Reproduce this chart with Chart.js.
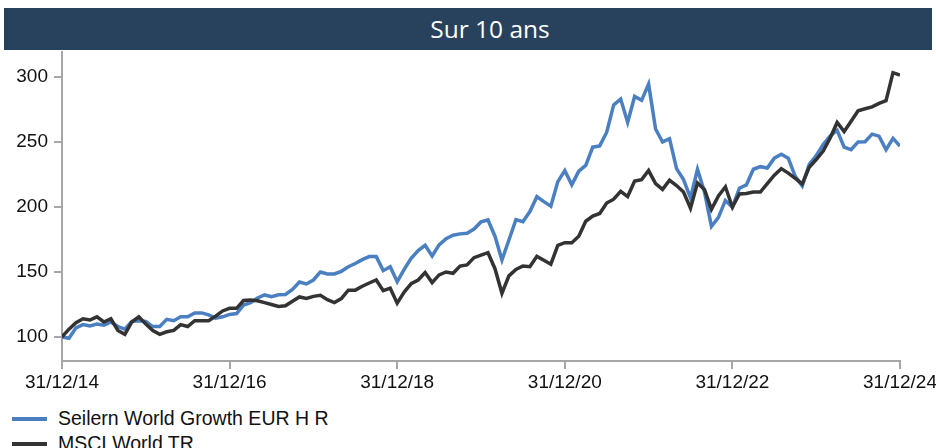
<!DOCTYPE html>
<html lang="fr">
<head>
  <meta charset="UTF-8" />
  <title>Sur 10 ans</title>
  <script src="https://cdn.jsdelivr.net/npm/chart.js"></script>
  <style>
    body {
      margin: 0;
      width: 936px;
      height: 448px;
      overflow: hidden;
      background: #fff;
      font-family: 'Liberation Sans', Arial, sans-serif;
      position: relative;
    }
    .title-bar {
      position: absolute;
      left: 4px;
      top: 8px;
      width: 928px;
      height: 42px;
      background: #28425d;
      color: #fff;
      font-family: 'Open Sans', sans-serif;
      font-size: 24.5px;
      line-height: 42px;
      text-align: center;
      padding-left: 44px;
      box-sizing: border-box;
    }
    #chartWrap {
      position: absolute;
      left: 0;
      top: 0;
    }
    .legend {
      position: absolute;
      left: 12px;
      top: 406px;
      font-size: 19.5px;
      color: #111;
    }
    .legend div {
      display: flex;
      align-items: center;
      height: 25px;
    }
    .legend span.swatch {
      display: inline-block;
      width: 35px;
      height: 4px;
      margin-right: 11px;
    }
  </style>
</head>
<body>
<div id="chartWrap"><canvas id="perfChart" width="940" height="400"></canvas></div>
<div class="title-bar">Sur 10 ans</div>
<div class="legend" id="legend"></div>

<script>
// monthly values, base 100 at 31/12/14
const seilern = [
  100, 99, 107, 109.5, 108.5, 110, 109, 111.5, 108, 106, 112, 112.5, 112, 108, 108, 113.5, 112.5, 115.5, 115.5, 118.5, 118.5, 117, 114.5, 115.5, 117.3,
  118, 124.5, 126.3, 130, 132.3, 131, 132.5, 132.7, 136.5, 142.3, 140.8, 143.8, 150, 148.5, 148.5, 150.5, 154, 156.5, 159.5, 161.8, 161.8, 151, 154, 142.5, 152,
  160.5, 166.4, 170.5, 162.3, 170.8, 175.6, 178.2, 179.3, 179.8, 183, 188.5, 190, 177.5, 159.2, 174.6, 190.3, 188.7, 196.5, 207.9, 204.1, 200.5, 219.5, 228, 217, 227.5,
  232, 246, 247, 257.5, 278.5, 283, 265, 285, 282, 294.5, 260, 250, 252.5, 229.5, 221, 207, 229, 211.5, 185, 192, 205, 199.8, 214.4, 217, 229,
  231, 230, 237.5, 240.5, 237.5, 223.5, 216.2, 232.8, 239.5, 248, 254.5, 259, 246, 244, 250, 250.2, 256, 254.5, 244, 252.8, 246.9
];
const msciWorld = [
  100, 106, 111, 114, 113, 115.5, 111.5, 114, 105, 102, 111.5, 115.5, 110, 105, 102, 104, 105, 109.5, 108, 112.5, 112.5, 112.5, 116, 120, 122,
  122, 128, 128.5, 127.8, 126.4, 125, 123.5, 124, 127.5, 130.8, 129.7, 131.2, 132, 128.7, 126.5, 129.5, 136, 136, 139, 141.5, 143.8, 135.6, 137.5, 126, 134.5,
  141, 143.8, 149.5, 141.8, 147.7, 150, 149, 154.5, 155.4, 161, 163, 164.8, 152.5, 133.6, 147, 152, 154.6, 154, 162, 159, 156, 170.5, 172.5, 172.5, 177.5,
  189, 193, 195, 203, 206, 212, 208, 220, 221, 228, 218, 213.5, 220.5, 216.5, 211.5, 199, 218.5, 213.5, 198.2, 208.5, 215.5, 199.8, 210, 210.3, 211.5,
  211.5, 218, 224.5, 229.5, 226, 222, 217.7, 230.5, 236.5, 243, 253, 265, 258, 266, 274, 275.5, 277, 279.7, 281.7, 303.3, 301.5
];

const seriesNames = ['Seilern World Growth EUR H R', 'MSCI World TR'];
const seriesColors = ['#4a7fc1', '#333333'];

const tickMonths = [0, 24, 48, 72, 96, 120];
const tickLabels = ['31/12/14', '31/12/16', '31/12/18', '31/12/20', '31/12/22', '31/12/24'];
const yTicks = [100, 150, 200, 250, 300];

const monthIdx = seilern.map((_, i) => i);

const axisColor = '#a6a6a6';
const tickFont = { family: "'Liberation Sans', Arial, sans-serif", size: 19 };

const ctx = document.getElementById('perfChart').getContext('2d');
const chart = new Chart(ctx, {
  type: 'line',
  data: {
    labels: monthIdx,
    datasets: [
      {
        label: seriesNames[0],
        data: seilern,
        borderColor: seriesColors[0],
        borderWidth: 3.5,
        pointRadius: 0,
        tension: 0,
        order: 1
      },
      {
        label: seriesNames[1],
        data: msciWorld,
        borderColor: seriesColors[1],
        borderWidth: 3.5,
        pointRadius: 0,
        tension: 0,
        order: 0
      }
    ]
  },
  options: {
    responsive: false,
    animation: false,
    layout: { padding: { top: 52, left: 0, right: 40, bottom: 0 } },
    plugins: {
      legend: { display: false },
      tooltip: { enabled: false }
    },
    scales: {
      x: {
        type: 'linear',
        min: 0,
        max: 120,
        afterBuildTicks: (scale) => { scale.ticks = tickMonths.map(v => ({ value: v })); },
        afterFit: (scale) => { scale.height = 39; },
        grid: { drawOnChartArea: false, drawTicks: true, tickLength: 8, color: axisColor, lineWidth: 2 },
        border: { color: axisColor, width: 2 },
        ticks: {
          font: tickFont,
          color: '#111',
          padding: 2,
          maxRotation: 0,
          callback: (v) => tickLabels[tickMonths.indexOf(v)]
        }
      },
      y: {
        min: 81.5,
        max: 319.2,
        afterBuildTicks: (scale) => { scale.ticks = yTicks.map(v => ({ value: v })); },
        afterFit: (scale) => { scale.width = 62; },
        grid: { drawOnChartArea: false, drawTicks: true, tickLength: 8, color: axisColor, lineWidth: 2 },
        border: { color: axisColor, width: 2 },
        ticks: { font: tickFont, color: '#111', padding: 6 }
      }
    }
  }
});

// legend in two rows, built from the chart's datasets
const legendEl = document.getElementById('legend');
chart.data.datasets.forEach(ds => {
  const row = document.createElement('div');
  row.innerHTML = `<span class="swatch" style="background:${ds.borderColor}"></span>${ds.label}`;
  legendEl.appendChild(row);
});
</script>
</body>
</html>
